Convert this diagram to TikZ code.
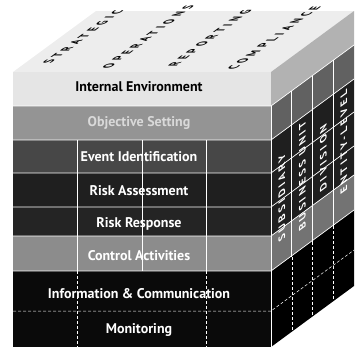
\documentclass[tikz,border=0pt]{standalone}
\usepackage{fontspec}
\setmainfont{PT Sans}
\usepackage{xcolor}
\usepackage{tikz}

\begin{document}
\begin{tikzpicture}[x=1pt, y=-1pt,
        rowline/.style={white, line width=0.7pt},
        colline/.style={white, line width=0.6pt},
        coldash/.style={white, line width=0.5pt, dash pattern=on 3pt off 2pt},
        rowlabel/.style={font=\bfseries\fontsize{14}{14}\selectfont, text=white, inner sep=0pt},
        toplabel/.style={font=\bfseries\fontsize{12.5}{12.5}\selectfont\addfontfeature{LetterSpace=32}, text=black, inner sep=0pt, cm={0.806,0.592,-1,0,(0,0)}},
        sidelabel/.style={font=\bfseries\fontsize{11.5}{11.5}\selectfont\addfontfeature{LetterSpace=25}, text=white, inner sep=0pt, cm={0,1,-0.806,-0.592,(0,0)}}
    ]
    \useasboundingbox (0,0) rectangle (359,351);

    % Top face
    \fill[black!7] (13,72) -- (271,72) -- ++(83,-61) -- (96,11) -- cycle;

    % Front face rows
    \fill[black!10] (13,72) rectangle (271,106);
    \fill[black!42] (13,106) rectangle (271,140);
    \fill[black!72] (13,140) rectangle (271,173);
    \fill[black!88] (13,173) rectangle (271,207);
    \fill[black!86] (13,207) rectangle (271,236);
    \fill[black!45] (13,236) rectangle (271,271);
    \fill[black!96] (13,271) rectangle (271,311);
    \fill[black!96] (13,311) rectangle (271,347);

    % Side face rows
    \fill[black!30] (271,72) -- ++(83,-61) -- ++(0,34) -- (271,106) -- cycle;
    \fill[black!62] (271,106) -- ++(83,-61) -- ++(0,34) -- (271,140) -- cycle;
    \fill[black!88] (271,140) -- ++(83,-61) -- ++(0,96) -- (271,236) -- cycle;
    \fill[black!55] (271,236) -- ++(83,-61) -- ++(0,35) -- (271,271) -- cycle;
    \fill[black] (271,271) -- ++(83,-61) -- ++(0,76) -- (271,347) -- cycle;

    % Grid on the front
    \draw[rowline] (13,106) -- (271,106) -- ++(83,-61);
    \draw[rowline] (13,140) -- (271,140) -- ++(83,-61);
    \draw[rowline] (13,173) -- (271,173) -- ++(83,-61);
    \draw[rowline] (13,207) -- (271,207) -- ++(83,-61);
    \draw[rowline] (13,236) -- (271,236) -- ++(83,-61);
    \draw[rowline] (13,271) -- (271,271) -- ++(83,-61);
    \draw[coldash] (13,311) -- (271,311) -- ++(83,-61);
    \draw[colline] (77.5,140) -- (77.5,271);
    \draw[colline] (142,140) -- (142,271);
    \draw[colline] (206.5,140) -- (206.5,271);
    \draw[coldash] (77.5,271) -- (77.5,347);
    \draw[coldash] (206.5,271) -- (206.5,347);
    \draw[colline] (271,106) -- (271,347);

    % Grid on the side
    \draw[colline] (291.75,90.75) -- (291.75,256.75);
    \draw[colline] (312.5,75.5) -- (312.5,241.5);
    \draw[colline] (333.25,60.25) -- (333.25,226.25);
    \draw[coldash] (291.75,256.75) -- (291.75,332);
    \draw[coldash] (312.5,241.5) -- (312.5,317);
    \draw[coldash] (333.25,226.25) -- (333.25,301);

    % Objectives
    \node[toplabel] (strat) at (83,37) {STRATEGIC};
    \node[toplabel] (oper) at (148,37) {OPERATIONS};
    \node[toplabel] (rep) at (210,38) {REPORTING};
    \node[toplabel] (comp) at (274,38) {COMPLIANCE};

    % Components
    \node[rowlabel, text=black] (ie) at (139,87) {Internal Environment};
    \node[rowlabel, text=white!85!black] (os) at (139,123) {Objective Setting};
    \node[rowlabel] (ei) at (139,157) {Event Identification};
    \node[rowlabel] (ra) at (139,191) {Risk Assessment};
    \node[rowlabel] (rr) at (139,224) {Risk Response};
    \node[rowlabel] (ca) at (139,256) {Control Activities};
    \node[rowlabel] (ic) at (139,294) {Information \& Communication};
    \node[rowlabel] (mo) at (139,330) {Monitoring};

    % Entity levels
    \node[sidelabel] (sub) at (282,198) {SUBSIDIARY};
    \node[sidelabel] (bu) at (302.5,176) {BUSINESS UNIT};
    \node[sidelabel] (div) at (323.5,158) {DIVISION};
    \node[sidelabel] (ent) at (344,142) {ENTITY-LEVEL};

\end{tikzpicture}
\end{document}
